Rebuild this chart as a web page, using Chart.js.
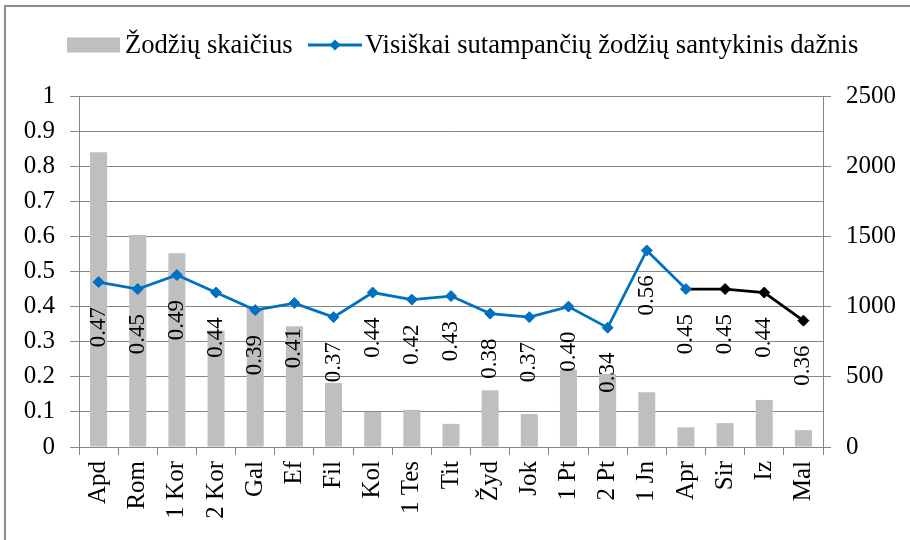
<!DOCTYPE html>
<html>
<head>
<meta charset="utf-8">
<title>Žodžių skaičius</title>
<script src="https://cdn.jsdelivr.net/npm/chart.js@4.4.0/dist/chart.umd.min.js"></script>
<style>
  html, body { margin: 0; padding: 0; background: #fff; }
  #wrap { width: 910px; height: 540px; }
</style>
</head>
<body>
<div id="wrap"><canvas id="chart" width="910" height="540"></canvas></div>
<script>
// Data
const categories = ["Apd", "Rom", "1 Kor", "2 Kor", "Gal", "Ef", "Fil", "Kol", "1 Tes", "Tit", "Žyd", "Jok", "1 Pt", "2 Pt", "1 Jn", "Apr", "Sir", "Iz", "Mal"]
const wordCounts = [2100, 1510, 1380, 830, 995, 860, 455, 250, 265, 165, 405, 235, 550, 520, 390, 140, 170, 335, 120]
const matchRatio = [0.47, 0.45, 0.49, 0.44, 0.39, 0.41, 0.37, 0.44, 0.42, 0.43, 0.38, 0.37, 0.40, 0.34, 0.56, 0.45, 0.45, 0.44, 0.36]
const seriesNames = ["Žodžių skaičius", "Visiškai sutampančių žodžių santykinis dažnis"]
const leftTickValues = [0, 0.1, 0.2, 0.3, 0.4, 0.5, 0.6, 0.7, 0.8, 0.9, 1]
const leftTickLabels = ["0", "0.1", "0.2", "0.3", "0.4", "0.5", "0.6", "0.7", "0.8", "0.9", "1"]
const rightTickValues = [0, 500, 1000, 1500, 2000, 2500]
const rightTickLabels = ["0", "500", "1000", "1500", "2000", "2500"]
const blackFrom = 15 // line turns black after "Apr"

const FONT = '"Liberation Serif", "Times New Roman", serif'
const BLUE = "#0070C0"
const GREY_BAR = "#BFBFBF"
const AXIS = "#868686"

Chart.defaults.font.family = FONT
Chart.defaults.color = "#000"

// rotated value labels under each point of the line
const valueLabels = {
  id: "valueLabels",
  afterDatasetsDraw(chart) {
    const meta = chart.getDatasetMeta(0)
    const ctx = chart.ctx
    ctx.save()
    ctx.font = `23px ${FONT}`
    ctx.fillStyle = "#000"
    ctx.textAlign = "center"
    ctx.textBaseline = "middle"
    meta.data.forEach((pt, i) => {
      ctx.save()
      ctx.translate(pt.x, pt.y + 45)
      ctx.rotate(-Math.PI / 2)
      ctx.fillText(matchRatio[i].toFixed(2), 0, 0)
      ctx.restore()
    })
    ctx.restore()
  },
}

// legend row + outer frame
const frameAndLegend = {
  id: "frameAndLegend",
  afterDraw(chart) {
    const ctx = chart.ctx
    ctx.save()
    // frame
    ctx.strokeStyle = "#8C8C8C"
    ctx.lineWidth = 2
    ctx.beginPath()
    ctx.moveTo(5, 540)
    ctx.lineTo(5, 6)
    ctx.lineTo(910, 6)
    ctx.stroke()

    // legend
    const cy = 45
    ctx.fillStyle = GREY_BAR
    ctx.fillRect(67, cy - 7.5, 53, 15)

    ctx.strokeStyle = BLUE
    ctx.lineWidth = 3
    ctx.beginPath()
    ctx.moveTo(308, cy)
    ctx.lineTo(362, cy)
    ctx.stroke()
    ctx.fillStyle = BLUE
    ctx.beginPath()
    ctx.moveTo(335, cy - 5.5)
    ctx.lineTo(340.5, cy)
    ctx.lineTo(335, cy + 5.5)
    ctx.lineTo(329.5, cy)
    ctx.closePath()
    ctx.fill()

    ctx.fillStyle = "#000"
    ctx.font = `26.6px ${FONT}`
    ctx.textAlign = "left"
    ctx.textBaseline = "middle"
    ctx.fillText(seriesNames[0], 125, cy + 1)
    ctx.fillText(seriesNames[1], 365, cy + 1)
    ctx.restore()
  },
}

const ctx = document.getElementById("chart").getContext("2d")
const chart = new Chart(ctx, {
  type: "bar",
  data: {
    labels: categories,
    datasets: [
      {
        type: "line",
        label: seriesNames[1],
        data: matchRatio,
        yAxisID: "y",
        order: 1,
        borderColor: BLUE,
        borderWidth: 2.75,
        segment: {
          borderColor: (c) => (c.p0DataIndex >= blackFrom ? "#000" : BLUE),
        },
        pointStyle: "rectRot",
        pointRadius: 5.5,
        pointBorderWidth: 1,
        pointBackgroundColor: matchRatio.map((v, i) => (i > blackFrom ? "#000" : BLUE)),
        pointBorderColor: matchRatio.map((v, i) => (i > blackFrom ? "#000" : BLUE)),
        tension: 0,
      },
      {
        type: "bar",
        label: seriesNames[0],
        data: wordCounts,
        yAxisID: "y2",
        order: 2,
        backgroundColor: GREY_BAR,
        categoryPercentage: 1,
        barPercentage: 0.435,
      },
    ],
  },
  options: {
    responsive: false,
    devicePixelRatio: 1,
    animation: false,
    layout: { padding: { top: 96, left: 0, right: 0, bottom: 0 } },
    plugins: {
      legend: { display: false },
      tooltip: { enabled: false },
    },
    scales: {
      x: {
        grid: { offset: true, drawOnChartArea: false, color: AXIS, tickLength: 8 },
        border: { color: AXIS },
        ticks: { font: { size: 25 }, color: "#000", padding: 6, minRotation: 90, maxRotation: 90, autoSkip: false },
        afterFit: (s) => { s.height = 93 },
      },
      y: {
        position: "left",
        min: 0,
        max: 1,
        afterBuildTicks: (s) => { s.ticks = leftTickValues.map((v) => ({ value: v })) },
        grid: { color: AXIS, tickLength: 9 },
        border: { color: AXIS },
        ticks: { font: { size: 25 }, color: "#000", padding: 15, callback: (v, i) => leftTickLabels[i] },
        afterFit: (s) => { s.width = 79 },
      },
      y2: {
        position: "right",
        min: 0,
        max: 2500,
        afterBuildTicks: (s) => { s.ticks = rightTickValues.map((v) => ({ value: v })) },
        grid: { drawOnChartArea: false, color: AXIS, tickLength: 8 },
        border: { color: AXIS },
        ticks: { font: { size: 25 }, color: "#000", padding: 15, callback: (v, i) => rightTickLabels[i] },
        afterFit: (s) => { s.width = 87 },
      },
    },
  },
  plugins: [valueLabels, frameAndLegend],
})
</script>
</body>
</html>
